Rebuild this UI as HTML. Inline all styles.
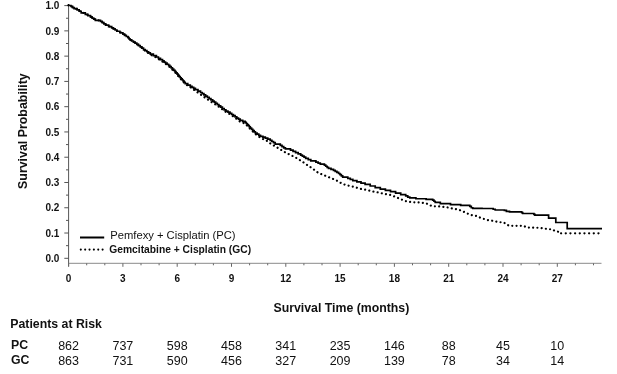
<!DOCTYPE html>
<html><head><meta charset="utf-8"><style>
html,body{margin:0;padding:0;background:#fff;width:617px;height:374px;overflow:hidden}
svg{display:block;will-change:transform}
text{font-family:"Liberation Sans",sans-serif;fill:#111}
.b10{font-size:10px;font-weight:bold}
.b96{font-size:9.6px;font-weight:bold}
.b10l{font-size:10.27px;font-weight:bold}
.b12{font-size:12.3px;font-weight:bold}
.b13{font-size:12.4px;font-weight:bold}
.r11{font-size:11.2px}
.r12{font-size:12.5px}
</style></head><body>
<svg width="617" height="374" viewBox="0 0 617 374">
<line x1="68.6" y1="5.1" x2="68.6" y2="266.3" stroke="#555" stroke-width="1"/>
<line x1="64.3" y1="258.30" x2="68.6" y2="258.30" stroke="#555" stroke-width="1"/>
<line x1="66.0" y1="245.67" x2="68.6" y2="245.67" stroke="#555" stroke-width="1"/>
<line x1="64.3" y1="233.03" x2="68.6" y2="233.03" stroke="#555" stroke-width="1"/>
<line x1="66.0" y1="220.40" x2="68.6" y2="220.40" stroke="#555" stroke-width="1"/>
<line x1="64.3" y1="207.76" x2="68.6" y2="207.76" stroke="#555" stroke-width="1"/>
<line x1="66.0" y1="195.12" x2="68.6" y2="195.12" stroke="#555" stroke-width="1"/>
<line x1="64.3" y1="182.49" x2="68.6" y2="182.49" stroke="#555" stroke-width="1"/>
<line x1="66.0" y1="169.86" x2="68.6" y2="169.86" stroke="#555" stroke-width="1"/>
<line x1="64.3" y1="157.22" x2="68.6" y2="157.22" stroke="#555" stroke-width="1"/>
<line x1="66.0" y1="144.59" x2="68.6" y2="144.59" stroke="#555" stroke-width="1"/>
<line x1="64.3" y1="131.95" x2="68.6" y2="131.95" stroke="#555" stroke-width="1"/>
<line x1="66.0" y1="119.32" x2="68.6" y2="119.32" stroke="#555" stroke-width="1"/>
<line x1="64.3" y1="106.68" x2="68.6" y2="106.68" stroke="#555" stroke-width="1"/>
<line x1="66.0" y1="94.05" x2="68.6" y2="94.05" stroke="#555" stroke-width="1"/>
<line x1="64.3" y1="81.41" x2="68.6" y2="81.41" stroke="#555" stroke-width="1"/>
<line x1="66.0" y1="68.78" x2="68.6" y2="68.78" stroke="#555" stroke-width="1"/>
<line x1="64.3" y1="56.14" x2="68.6" y2="56.14" stroke="#555" stroke-width="1"/>
<line x1="66.0" y1="43.51" x2="68.6" y2="43.51" stroke="#555" stroke-width="1"/>
<line x1="64.3" y1="30.87" x2="68.6" y2="30.87" stroke="#555" stroke-width="1"/>
<line x1="66.0" y1="18.24" x2="68.6" y2="18.24" stroke="#555" stroke-width="1"/>
<line x1="64.3" y1="5.60" x2="68.6" y2="5.60" stroke="#555" stroke-width="1"/>
<line x1="68.6" y1="263.3" x2="601.5" y2="263.3" stroke="#8a8a8a" stroke-width="1"/>
<line x1="68.60" y1="263.3" x2="68.60" y2="266.8" stroke="#666" stroke-width="1"/>
<line x1="86.70" y1="263.3" x2="86.70" y2="265.3" stroke="#666" stroke-width="1"/>
<line x1="104.80" y1="263.3" x2="104.80" y2="265.3" stroke="#666" stroke-width="1"/>
<line x1="122.90" y1="263.3" x2="122.90" y2="266.8" stroke="#666" stroke-width="1"/>
<line x1="141.00" y1="263.3" x2="141.00" y2="265.3" stroke="#666" stroke-width="1"/>
<line x1="159.10" y1="263.3" x2="159.10" y2="265.3" stroke="#666" stroke-width="1"/>
<line x1="177.20" y1="263.3" x2="177.20" y2="266.8" stroke="#666" stroke-width="1"/>
<line x1="195.30" y1="263.3" x2="195.30" y2="265.3" stroke="#666" stroke-width="1"/>
<line x1="213.40" y1="263.3" x2="213.40" y2="265.3" stroke="#666" stroke-width="1"/>
<line x1="231.50" y1="263.3" x2="231.50" y2="266.8" stroke="#666" stroke-width="1"/>
<line x1="249.60" y1="263.3" x2="249.60" y2="265.3" stroke="#666" stroke-width="1"/>
<line x1="267.70" y1="263.3" x2="267.70" y2="265.3" stroke="#666" stroke-width="1"/>
<line x1="285.80" y1="263.3" x2="285.80" y2="266.8" stroke="#666" stroke-width="1"/>
<line x1="303.90" y1="263.3" x2="303.90" y2="265.3" stroke="#666" stroke-width="1"/>
<line x1="322.00" y1="263.3" x2="322.00" y2="265.3" stroke="#666" stroke-width="1"/>
<line x1="340.10" y1="263.3" x2="340.10" y2="266.8" stroke="#666" stroke-width="1"/>
<line x1="358.20" y1="263.3" x2="358.20" y2="265.3" stroke="#666" stroke-width="1"/>
<line x1="376.30" y1="263.3" x2="376.30" y2="265.3" stroke="#666" stroke-width="1"/>
<line x1="394.40" y1="263.3" x2="394.40" y2="266.8" stroke="#666" stroke-width="1"/>
<line x1="412.50" y1="263.3" x2="412.50" y2="265.3" stroke="#666" stroke-width="1"/>
<line x1="430.60" y1="263.3" x2="430.60" y2="265.3" stroke="#666" stroke-width="1"/>
<line x1="448.70" y1="263.3" x2="448.70" y2="266.8" stroke="#666" stroke-width="1"/>
<line x1="466.80" y1="263.3" x2="466.80" y2="265.3" stroke="#666" stroke-width="1"/>
<line x1="484.90" y1="263.3" x2="484.90" y2="265.3" stroke="#666" stroke-width="1"/>
<line x1="503.00" y1="263.3" x2="503.00" y2="266.8" stroke="#666" stroke-width="1"/>
<line x1="521.10" y1="263.3" x2="521.10" y2="265.3" stroke="#666" stroke-width="1"/>
<line x1="539.20" y1="263.3" x2="539.20" y2="265.3" stroke="#666" stroke-width="1"/>
<line x1="557.30" y1="263.3" x2="557.30" y2="266.8" stroke="#666" stroke-width="1"/>
<line x1="575.40" y1="263.3" x2="575.40" y2="265.3" stroke="#666" stroke-width="1"/>
<line x1="593.50" y1="263.3" x2="593.50" y2="265.3" stroke="#666" stroke-width="1"/>
<text x="59.4" y="261.9" class="b10" text-anchor="end">0.0</text>
<text x="59.4" y="236.6" class="b10" text-anchor="end">0.1</text>
<text x="59.4" y="211.4" class="b10" text-anchor="end">0.2</text>
<text x="59.4" y="186.1" class="b10" text-anchor="end">0.3</text>
<text x="59.4" y="160.8" class="b10" text-anchor="end">0.4</text>
<text x="59.4" y="135.6" class="b10" text-anchor="end">0.5</text>
<text x="59.4" y="110.3" class="b10" text-anchor="end">0.6</text>
<text x="59.4" y="85.0" class="b10" text-anchor="end">0.7</text>
<text x="59.4" y="59.7" class="b10" text-anchor="end">0.8</text>
<text x="59.4" y="34.5" class="b10" text-anchor="end">0.9</text>
<text x="59.4" y="9.2" class="b10" text-anchor="end">1.0</text>
<text x="68.6" y="281.8" class="b10" text-anchor="middle">0</text>
<text x="122.9" y="281.8" class="b10" text-anchor="middle">3</text>
<text x="177.2" y="281.8" class="b10" text-anchor="middle">6</text>
<text x="231.5" y="281.8" class="b10" text-anchor="middle">9</text>
<text x="285.8" y="281.8" class="b10" text-anchor="middle">12</text>
<text x="340.1" y="281.8" class="b10" text-anchor="middle">15</text>
<text x="394.4" y="281.8" class="b10" text-anchor="middle">18</text>
<text x="448.7" y="281.8" class="b10" text-anchor="middle">21</text>
<text x="503.0" y="281.8" class="b10" text-anchor="middle">24</text>
<text x="557.3" y="281.8" class="b10" text-anchor="middle">27</text>
<path d="M68.50 5.10 L71.00 5.90 L74.10 8.10 L77.10 9.10 L81.20 12.00 L85.30 13.70 L90.40 16.30 L95.40 19.80 L100.50 20.80 L105.60 24.40 L111.70 27.40 L116.80 30.50 L122.90 33.50 L128.00 37.10 L130.00 39.40 L135.10 42.60 L140.20 46.22 L145.20 50.82 L150.30 54.50 L156.40 57.50 L162.50 61.60 L168.60 66.00 L175.00 72.20 L180.20 78.40 L185.20 84.00 L190.30 87.04 L195.40 90.80 L200.50 94.40 L205.60 98.00 L212.70 102.83 L215.70 104.53 L218.90 106.81 L225.90 112.00 L230.00 114.20 L235.10 117.81 L240.20 121.67 L245.20 123.68 L250.30 129.08 L255.40 134.04 L260.50 137.80 L265.30 140.14 L266.10 140.20 L270.20 143.30 L275.20 146.30 L280.30 149.40 L285.40 152.40 L290.50 155.00 L295.60 157.50 L301.00 160.70 L306.10 164.20 L312.20 168.30 L318.30 172.90 L324.40 175.40 L330.50 177.90 L336.60 180.50 L342.70 184.00 L348.80 185.80 L354.90 187.10 L360.00 188.80 L366.10 189.80 L372.20 191.30 L378.30 192.40 L384.40 193.90 L390.50 194.90 L396.60 197.40 L402.70 200.00 L406.70 201.50 L412.80 202.30 L421.00 202.50 L426.10 203.30 L432.20 206.30 L438.30 206.30 L446.40 207.20 L452.50 208.60 L458.60 209.60 L464.70 212.20 L470.80 215.00 L476.90 216.00 L481.00 218.10 L487.10 219.90 L493.20 220.90 L499.30 222.20 L503.90 222.40 L506.40 224.50 L509.50 225.80 L523.70 225.80 L526.70 227.50 L540.00 227.80 L548.10 229.10 L552.70 229.40 L554.70 230.90 L558.80 231.90 L560.80 233.30" fill="none" stroke="#000" stroke-width="2.2" stroke-dasharray="0.01 4.25" stroke-linecap="round"/>
<line x1="561.1" y1="233.3" x2="599" y2="233.3" stroke="#000" stroke-width="2.3" stroke-dasharray="0.01 4.66" stroke-linecap="round"/>
<path d="M68.50 5.10 L68.50 5.50 L71.00 5.50 L71.00 5.90 L71.00 6.45 L72.55 6.45 L72.55 7.55 L74.10 7.55 L74.10 8.10 L74.10 8.60 L77.10 8.60 L77.10 9.10 L77.10 9.82 L79.15 9.82 L79.15 11.27 L81.20 11.28 L81.20 12.00 L81.20 12.85 L85.30 12.85 L85.30 13.70 L85.30 14.35 L87.85 14.35 L87.85 15.65 L90.40 15.65 L90.40 16.30 L90.40 16.88 L92.07 16.88 L92.07 18.05 L93.73 18.05 L93.73 19.22 L95.40 19.22 L95.40 19.80 L95.40 20.30 L100.50 20.30 L100.50 20.80 L100.50 21.40 L102.20 21.40 L102.20 22.60 L103.90 22.60 L103.90 23.80 L105.60 23.80 L105.60 24.40 L105.60 25.15 L108.65 25.15 L108.65 26.65 L111.70 26.65 L111.70 27.40 L111.70 27.92 L113.40 27.92 L113.40 28.95 L115.10 28.95 L115.10 29.98 L116.80 29.98 L116.80 30.50 L116.80 31.25 L119.85 31.25 L119.85 32.75 L122.90 32.75 L122.90 33.50 L122.90 34.10 L124.60 34.10 L124.60 35.30 L126.30 35.30 L126.30 36.50 L128.00 36.50 L128.00 37.10 L128.00 37.67 L129.00 37.67 L129.00 38.82 L130.00 38.83 L130.00 39.40 L130.00 39.93 L131.70 39.93 L131.70 41.00 L133.40 41.00 L133.40 42.07 L135.10 42.07 L135.10 42.60 L135.10 43.20 L136.80 43.20 L136.80 44.40 L138.50 44.40 L138.50 45.60 L140.20 45.60 L140.20 46.20 L140.20 46.87 L141.87 46.87 L141.87 48.20 L143.53 48.20 L143.53 49.53 L145.20 49.53 L145.20 50.20 L145.20 50.72 L146.90 50.72 L146.90 51.75 L148.60 51.75 L148.60 52.78 L150.30 52.78 L150.30 53.30 L150.30 54.05 L153.35 54.05 L153.35 55.55 L156.40 55.55 L156.40 56.30 L156.40 56.98 L158.43 56.98 L158.43 58.35 L160.47 58.35 L160.47 59.72 L162.50 59.72 L162.50 60.40 L162.50 60.95 L164.03 60.95 L164.03 62.05 L165.55 62.05 L165.55 63.15 L167.07 63.15 L167.07 64.25 L168.60 64.25 L168.60 64.80 L168.60 65.42 L169.88 65.42 L169.88 66.66 L171.16 66.66 L171.16 67.90 L172.44 67.90 L172.44 69.14 L173.72 69.14 L173.72 70.38 L175.00 70.38 L175.00 71.00 L175.00 71.62 L176.04 71.62 L176.04 72.86 L177.08 72.86 L177.08 74.10 L178.12 74.10 L178.12 75.34 L179.16 75.34 L179.16 76.58 L180.20 76.58 L180.20 77.20 L180.20 77.76 L181.20 77.76 L181.20 78.88 L182.20 78.88 L182.20 80.00 L183.20 80.00 L183.20 81.12 L184.20 81.12 L184.20 82.24 L185.20 82.24 L185.20 82.80 L185.20 83.55 L187.75 83.55 L187.75 85.05 L190.30 85.05 L190.30 85.80 L190.30 86.32 L192.00 86.32 L192.00 87.35 L193.70 87.35 L193.70 88.38 L195.40 88.38 L195.40 88.90 L195.40 89.65 L197.95 89.65 L197.95 91.15 L200.50 91.15 L200.50 91.90 L200.50 92.50 L202.20 92.50 L202.20 93.70 L203.90 93.70 L203.90 94.90 L205.60 94.90 L205.60 95.50 L205.60 96.14 L207.38 96.14 L207.38 97.41 L209.15 97.41 L209.15 98.69 L210.92 98.69 L210.92 99.96 L212.70 99.96 L212.70 100.60 L212.70 101.10 L214.20 101.10 L214.20 102.10 L215.70 102.10 L215.70 102.60 L215.70 103.25 L217.30 103.25 L217.30 104.55 L218.90 104.55 L218.90 105.20 L218.90 105.86 L220.65 105.86 L220.65 107.19 L222.40 107.19 L222.40 108.51 L224.15 108.51 L224.15 109.84 L225.90 109.84 L225.90 110.50 L225.90 111.05 L227.95 111.05 L227.95 112.15 L230.00 112.15 L230.00 112.70 L230.00 113.30 L231.70 113.30 L231.70 114.50 L233.40 114.50 L233.40 115.70 L235.10 115.70 L235.10 116.30 L235.10 116.88 L236.80 116.88 L236.80 118.05 L238.50 118.05 L238.50 119.22 L240.20 119.22 L240.20 119.80 L240.20 120.30 L242.70 120.30 L242.70 121.30 L245.20 121.30 L245.20 121.80 L245.20 122.36 L246.22 122.36 L246.22 123.48 L247.24 123.48 L247.24 124.60 L248.26 124.60 L248.26 125.72 L249.28 125.72 L249.28 126.84 L250.30 126.84 L250.30 127.40 L250.30 128.04 L251.58 128.04 L251.58 129.31 L252.85 129.31 L252.85 130.59 L254.12 130.59 L254.12 131.86 L255.40 131.86 L255.40 132.50 L255.40 133.05 L257.10 133.05 L257.10 134.15 L258.80 134.15 L258.80 135.25 L260.50 135.25 L260.50 135.80 L260.50 136.28 L262.90 136.28 L262.90 137.22 L265.30 137.22 L265.30 137.70 L265.30 138.20 L267.75 138.20 L267.75 139.20 L270.20 139.20 L270.20 139.70 L270.20 140.30 L271.87 140.30 L271.87 141.50 L273.53 141.50 L273.53 142.70 L275.20 142.70 L275.20 143.30 L275.20 144.05 L280.30 144.05 L280.30 144.80 L280.30 145.40 L282.00 145.40 L282.00 146.60 L283.70 146.60 L283.70 147.80 L285.40 147.80 L285.40 148.40 L285.40 148.90 L290.50 148.90 L290.50 149.40 L290.50 150.03 L293.05 150.03 L293.05 151.28 L295.60 151.28 L295.60 151.90 L295.60 152.55 L298.15 152.55 L298.15 153.85 L300.70 153.85 L300.70 154.50 L300.70 155.03 L302.37 155.03 L302.37 156.10 L304.03 156.10 L304.03 157.17 L305.70 157.17 L305.70 157.70 L305.70 158.35 L308.25 158.35 L308.25 159.65 L310.80 159.65 L310.80 160.30 L310.80 160.95 L315.90 160.95 L315.90 161.60 L315.90 162.12 L318.10 162.12 L318.10 163.18 L320.30 163.17 L320.30 163.70 L320.30 164.20 L324.40 164.20 L324.40 164.70 L324.40 165.22 L325.77 165.22 L325.77 166.25 L327.13 166.25 L327.13 167.28 L328.50 167.28 L328.50 167.80 L328.50 168.30 L331.00 168.30 L331.00 169.30 L333.50 169.30 L333.50 169.80 L333.50 170.32 L335.20 170.32 L335.20 171.35 L336.90 171.35 L336.90 172.38 L338.60 172.38 L338.60 172.90 L338.60 173.48 L339.97 173.48 L339.97 174.65 L341.33 174.65 L341.33 175.82 L342.70 175.82 L342.70 176.40 L342.70 177.15 L347.80 177.15 L347.80 177.90 L347.80 178.43 L350.30 178.43 L350.30 179.48 L352.80 179.47 L352.80 180.00 L352.80 180.62 L356.90 180.62 L356.90 181.88 L361.00 181.88 L361.00 182.50 L361.00 183.10 L365.10 183.10 L365.10 183.70 L365.10 184.45 L370.20 184.45 L370.20 185.20 L370.20 186.00 L375.20 186.00 L375.20 186.80 L375.20 187.55 L380.30 187.55 L380.30 188.30 L380.30 189.05 L385.40 189.05 L385.40 189.80 L385.40 190.30 L390.50 190.30 L390.50 190.80 L390.50 191.60 L395.60 191.60 L395.60 192.40 L395.60 193.15 L400.70 193.15 L400.70 193.90 L400.70 194.65 L405.70 194.65 L405.70 195.40 L405.70 195.95 L407.75 195.95 L407.75 197.05 L409.80 197.05 L409.80 197.60 L409.80 197.95 L415.90 197.95 L415.90 198.30 L415.90 198.75 L426.10 198.75 L426.10 199.20 L426.10 199.35 L432.70 199.35 L432.70 199.50 L432.70 200.07 L433.95 200.07 L433.95 201.22 L435.20 201.23 L435.20 201.80 L435.20 202.45 L440.30 202.45 L440.30 203.10 L440.30 203.60 L450.50 203.60 L450.50 204.10 L450.50 204.60 L460.70 204.60 L460.70 205.10 L460.70 205.45 L469.80 205.45 L469.80 205.80 L469.80 206.45 L471.30 206.45 L471.30 207.75 L472.80 207.75 L472.80 208.40 L472.80 208.45 L482.00 208.45 L482.00 208.50 L493.20 208.50 L493.20 209.25 L495.20 209.25 L495.20 210.00 L504.40 210.00 L504.40 210.40 L506.40 210.40 L506.40 210.80 L506.40 211.30 L509.50 211.30 L509.50 211.80 L521.70 211.80 L521.70 212.65 L522.70 212.65 L522.70 213.50 L533.90 213.50 L533.90 214.35 L534.90 214.35 L534.90 215.20 L548.60 215.20 L548.60 218.20 L555.80 218.20 L555.80 222.50 L567.20 222.50 L567.20 228.70 L602.00 228.70" fill="none" stroke="#000" stroke-width="1.7" stroke-linejoin="miter"/>
<line x1="80" y1="237.5" x2="104.2" y2="237.5" stroke="#000" stroke-width="2"/>
<line x1="80.8" y1="249.6" x2="104.2" y2="249.6" stroke="#000" stroke-width="2.1" stroke-dasharray="0.01 4.35" stroke-linecap="round"/>
<text x="110.3" y="238.8" class="r11">Pemfexy + Cisplatin (PC)</text>
<text x="109.3" y="252.6" class="b10l">Gemcitabine + Cisplatin (GC)</text>
<text transform="translate(26.5 131.1) rotate(-90)" text-anchor="middle" class="b13">Survival Probability</text>
<text x="273.5" y="311.6" class="b12">Survival Time (months)</text>
<text x="10.3" y="327.6" class="b12">Patients at Risk</text>
<text x="11" y="348.6" class="b12">PC</text>
<text x="11" y="364" class="b12">GC</text>
<text x="68.6" y="350" class="r12" text-anchor="middle">862</text>
<text x="68.6" y="364.6" class="r12" text-anchor="middle">863</text>
<text x="122.9" y="350" class="r12" text-anchor="middle">737</text>
<text x="122.9" y="364.6" class="r12" text-anchor="middle">731</text>
<text x="177.2" y="350" class="r12" text-anchor="middle">598</text>
<text x="177.2" y="364.6" class="r12" text-anchor="middle">590</text>
<text x="231.5" y="350" class="r12" text-anchor="middle">458</text>
<text x="231.5" y="364.6" class="r12" text-anchor="middle">456</text>
<text x="285.8" y="350" class="r12" text-anchor="middle">341</text>
<text x="285.8" y="364.6" class="r12" text-anchor="middle">327</text>
<text x="340.1" y="350" class="r12" text-anchor="middle">235</text>
<text x="340.1" y="364.6" class="r12" text-anchor="middle">209</text>
<text x="394.4" y="350" class="r12" text-anchor="middle">146</text>
<text x="394.4" y="364.6" class="r12" text-anchor="middle">139</text>
<text x="448.7" y="350" class="r12" text-anchor="middle">88</text>
<text x="448.7" y="364.6" class="r12" text-anchor="middle">78</text>
<text x="503.0" y="350" class="r12" text-anchor="middle">45</text>
<text x="503.0" y="364.6" class="r12" text-anchor="middle">34</text>
<text x="557.3" y="350" class="r12" text-anchor="middle">10</text>
<text x="557.3" y="364.6" class="r12" text-anchor="middle">14</text>
</svg>
</body></html>
